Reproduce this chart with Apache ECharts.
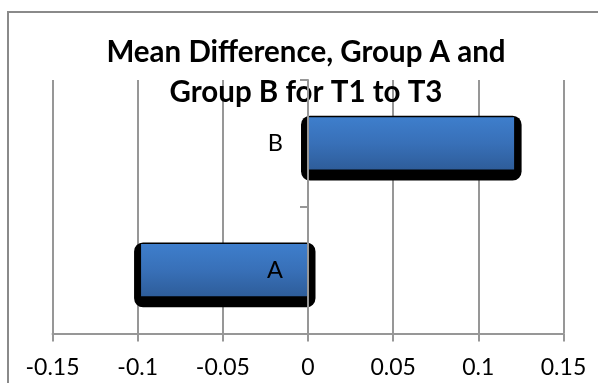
<!DOCTYPE html>
<html>
<head>
<meta charset="utf-8">
<script src="https://cdn.jsdelivr.net/npm/echarts@6/dist/echarts.min.js"></script>
<style>
html,body{margin:0;padding:0;background:#fff;}
#chart{width:598px;height:383px;}
</style>
</head>
<body>
<div id="chart"></div>
<script>
const titleText = 'Mean Difference, Group A and\nGroup B for T1 to T3';
const categories = ['A', 'B'];
const meanDiff = [-0.098, 0.121];
const xTicks = { min: -0.15, max: 0.15, interval: 0.05 };

const gray = '#979797';
const chart = echarts.init(document.getElementById('chart'), null, { renderer: 'canvas' });

const data = categories.map((c, i) => [meanDiff[i], i]);

chart.setOption({
  animation: false,
  backgroundColor: '#fff',
  graphic: [{
    type: 'rect', z: -10, silent: true,
    shape: { x: 8, y: 12, width: 700, height: 500 },
    style: { fill: '#fff', stroke: '#8a8a8a', lineWidth: 2 }
  }],
  title: {
    text: titleText,
    left: 306, top: 32, textAlign: 'center', padding: 0,
    textStyle: { fontFamily: 'Lato', fontWeight: 'bold', fontSize: 29.5, lineHeight: 40, color: '#000' }
  },
  grid: { left: 52.5, right: 34.5, top: 80, bottom: 49.5 },
  xAxis: {
    type: 'value', min: xTicks.min, max: xTicks.max, interval: xTicks.interval,
    axisLine: { show: true, lineStyle: { color: gray, width: 2 } },
    axisTick: { show: true, length: 8, lineStyle: { color: gray, width: 2 } },
    splitLine: { show: true, lineStyle: { color: gray, width: 2 } },
    axisLabel: {
      margin: 23, fontFamily: 'Lato', fontSize: 23, color: '#000',
      formatter: v => String(+v.toFixed(2))
    }
  },
  yAxis: {
    type: 'category', data: categories, z: 10,
    axisLine: { show: true, onZero: false, lineStyle: { color: gray, width: 2 } },
    axisTick: { show: true, length: 8, lineStyle: { color: gray, width: 2 } },
    splitLine: { show: false },
    axisLabel: { margin: 25, fontFamily: 'Lato', fontSize: 23.5, color: '#000' }
  },
  series: [{
    type: 'custom',
    encode: { x: 0, y: 1 },
    data: data,
    renderItem: function (params, api) {
      const v = api.value(0), c = api.value(1);
      const p0 = api.coord([0, c]);
      const p1 = api.coord([v, c]);
      const band = api.size([0, 1])[1];
      const h = band * 0.413;
      const x0 = Math.min(p0[0], p1[0]);
      const x1 = Math.max(p0[0], p1[0]);
      const yTop = p0[1] - h / 2;
      return {
        type: 'group',
        children: [
          { type: 'rect', shape: { x: x0 - 7, y: yTop - 1.5, width: x1 - x0 + 14.5, height: h + 12.5, r: 9 },
            style: { fill: '#000' } },
          { type: 'rect', shape: { x: x0, y: yTop, width: x1 - x0, height: h },
            style: { fill: new echarts.graphic.LinearGradient(0, 0, 0, 1, [
              { offset: 0, color: '#3e7ecc' },
              { offset: 0.5, color: '#3870b8' },
              { offset: 1, color: '#2e5d9a' }
            ]) } }
        ]
      };
    }
  }]
});

// Move the category axis (line, ticks, labels) to x = 0 using the library's scale
const zeroX = chart.convertToPixel({ xAxisIndex: 0 }, 0);
const leftX = chart.convertToPixel({ xAxisIndex: 0 }, xTicks.min);
chart.setOption({ yAxis: { offset: -(zeroX - leftX) } });
</script>
</body>
</html>
